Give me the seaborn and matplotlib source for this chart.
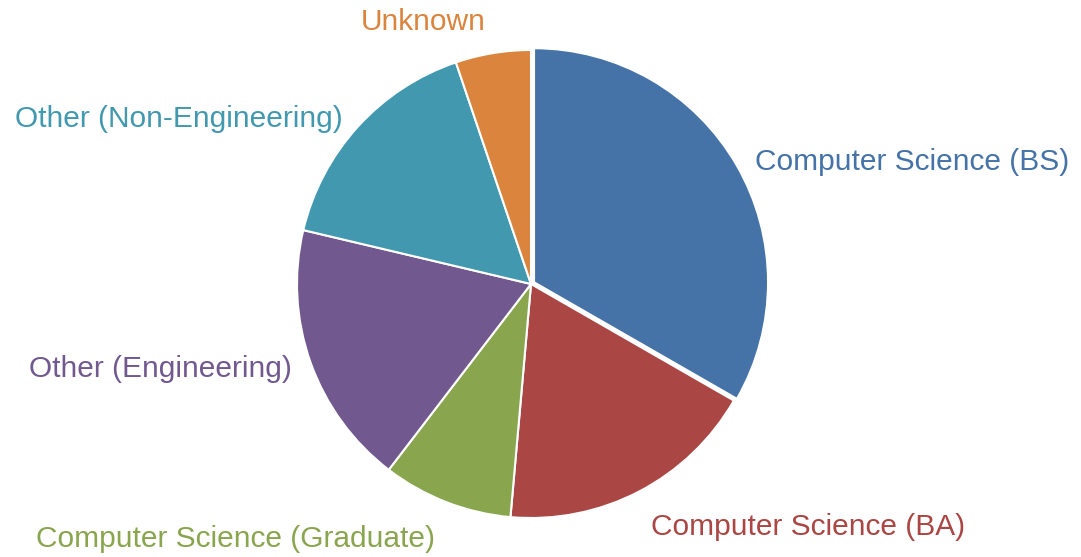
import matplotlib
matplotlib.use("Agg")
import matplotlib.pyplot as plt
import matplotlib.transforms as mtransforms
import seaborn as sns

# shares of respondents by degree (percent)
categories = [
    "Computer Science (BS)",
    "Computer Science (BA)",
    "Computer Science (Graduate)",
    "Other (Engineering)",
    "Other (Non-Engineering)",
    "Unknown",
]
shares = [33.3, 18.1, 9.0, 18.3, 16.1, 5.2]
colors = ["#4572A7", "#AA4643", "#89A54E", "#71588F", "#4198AF", "#DB843D"]
explode = [0.015, 0, 0, 0, 0, 0]

# small label nudges in pixels (right, down), to mimic the original label layout
label_nudge = [(-2, 9), (1, 15), (-3, 15), (3, -1), (2, 8), (-4, -8)]


def main() -> None:
    sns.set_theme(style="white")
    plt.rcParams["font.family"] = ["Liberation Sans", "DejaVu Sans"]

    fig = plt.figure(figsize=(10.81, 5.57), dpi=100)
    ax = fig.add_axes([297 / 1081, 39 / 557, 468 / 1081, 468 / 557])

    wedges, texts = ax.pie(
        shares,
        labels=categories,
        colors=colors,
        explode=explode,
        startangle=90,
        counterclock=False,
        labeldistance=1.1,
        wedgeprops={"edgecolor": "white", "linewidth": 1.5},
        textprops={"fontsize": 21.5},
    )
    for text, color, (dx, dy) in zip(texts, colors, label_nudge):
        text.set_color(color)
        text.set_clip_on(False)
        shift = mtransforms.ScaledTranslation(dx / 100, -dy / 100, fig.dpi_scale_trans)
        text.set_transform(text.get_transform() + shift)

    ax.set_xlim(-1, 1)
    ax.set_ylim(-1, 1)
    ax.set_aspect("equal", adjustable="box")
    ax.axis("off")

    fig.savefig("out.png", dpi=100, facecolor="white")
    plt.close(fig)


if __name__ == "__main__":
    main()
